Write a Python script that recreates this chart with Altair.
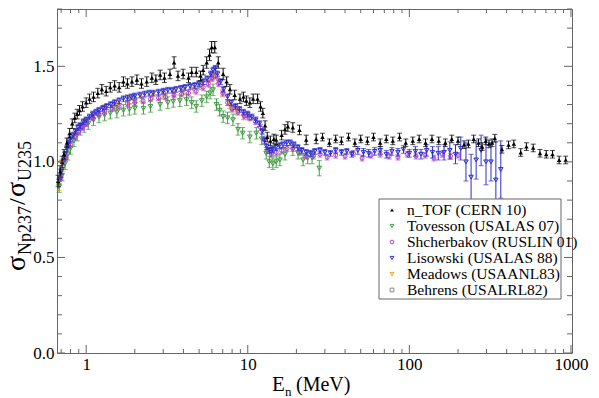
import altair as alt
import pandas as pd

# ---------------- data ----------------
ntof_E = [0.67,0.69,0.71,0.73,0.76,0.79,0.82,0.85,0.88,0.91,
          0.95,1.0,1.05,1.11,1.18,1.25,1.33,1.41,1.5,1.6,
          1.7,1.8,1.92,2.06,2.2,2.37,2.55,2.7,2.87,3.05,
          3.3,3.5,3.7,3.98,4.3,4.5,4.8,5.1,5.3,5.57,
          5.8,5.98,6.25,6.57,7.04,7.4,7.76,8.3,8.95,9.4,
          9.8,10.3,10.8,11.5,12.0,12.4,12.8,13.2,13.8,14.5,
          15.0,16.2,17.0,17.7,19.0,20.9,23,26.5,29,32,
          35,38,42,46,50,55,60,66,72,79,
          87,95,105,115,126,138,152,167,183,200,
          218,232,250,268,282,297,311,325,338,374,
          411,443,489,530,584,643,703,769,845,928]
ntof_v = [0.90,0.95,1.00,1.04,1.10,1.15,1.20,1.23,1.25,1.27,
          1.29,1.31,1.33,1.34,1.36,1.38,1.37,1.39,1.40,1.39,
          1.42,1.41,1.42,1.43,1.41,1.42,1.44,1.43,1.455,1.44,
          1.46,1.52,1.45,1.46,1.44,1.47,1.47,1.45,1.48,1.52,
          1.56,1.60,1.60,1.52,1.46,1.42,1.38,1.35,1.33,1.34,
          1.32,1.31,1.33,1.33,1.29,1.255,1.19,1.13,1.11,1.12,
          1.115,1.14,1.17,1.185,1.18,1.167,1.115,1.12,1.13,1.10,
          1.12,1.11,1.13,1.10,1.12,1.11,1.13,1.10,1.12,1.11,
          1.13,1.10,1.11,1.12,1.10,1.12,1.11,1.10,1.12,1.11,
          1.09,1.094,1.12,1.10,1.08,1.11,1.094,1.10,1.124,1.066,
          1.089,1.094,1.049,1.08,1.073,1.045,1.04,1.04,1.01,1.01]
ntof_err = ([0.03, 0.03, 0.03] + [0.025] * 28 + [0.03] + [0.025] * 7 + [0.03] * 6
            + [0.025] * 23 + [0.02] * 42)

lis_E = [0.68,0.70,0.72,0.74,0.76,0.78,0.80,0.83,0.86,0.89,
         0.92,0.96,1.0,1.05,1.1,1.15,1.2,1.27,1.34,1.42,
         1.5,1.6,1.7,1.8,1.9,2.0,2.15,2.3,2.45,2.6,
         2.8,3.0,3.2,3.4,3.6,3.85,4.1,4.4,4.7,5.0,
         5.3,5.6,5.9,6.1,6.3,6.5,6.8,7.1,7.5,7.9,
         8.4,8.9,9.4,10.0,10.6,11.2,11.8,12.3,12.7,13.1,
         13.6,14.2,14.9,15.7,16.5,17.4,18.3,19.3,20.4,21.6,
         23,24.5,26,28,30,32.5,35,38,41,44,
         48,52,56,61,66,72,78,85,92,100,
         109,118,128,139,151,164,178,193,208,224,
         241,259,278,298,320,343,368]
lis_v = [0.90,0.95,1.00,1.04,1.07,1.10,1.12,1.14,1.16,1.18,
         1.19,1.21,1.22,1.235,1.25,1.26,1.27,1.28,1.29,1.30,
         1.31,1.32,1.33,1.335,1.34,1.345,1.35,1.355,1.36,1.36,
         1.365,1.37,1.375,1.375,1.38,1.385,1.39,1.395,1.40,1.41,
         1.42,1.435,1.46,1.48,1.49,1.46,1.42,1.38,1.34,1.31,
         1.29,1.275,1.26,1.25,1.235,1.22,1.20,1.16,1.11,1.08,
         1.06,1.065,1.075,1.085,1.09,1.10,1.10,1.09,1.075,1.06,
         1.05,1.045,1.055,1.06,1.05,1.045,1.06,1.05,1.055,1.04,
         1.06,1.05,1.045,1.055,1.06,1.04,1.055,1.05,1.065,1.045,
         1.055,1.04,1.06,1.05,1.045,1.05,1.06,1.04,1.07,1.00,
         0.92,1.01,1.06,1.00,1.00,0.905,0.96]
lis_err = ([0.015] * 80 + [0.02] * 10
           + [0.025, 0.025, 0.03, 0.03, 0.035, 0.04, 0.045, 0.05, 0.06, 0.10]
           + [0.12, 0.10, 0.08, 0.12, 0.10, 0.20, 0.15])

shc_E = [0.7,0.75,0.8,0.85,0.9,0.95,1.0,1.1,1.2,1.3,
         1.45,1.6,1.8,2.0,2.25,2.5,2.8,3.1,3.5,3.9,
         4.3,4.8,5.3,5.7,6.0,6.3,6.6,7.0,7.5,8.0,
         8.7,9.5,10.3,11.2,12.0,12.6,13.2,14.0,15.0,16.2,
         17.5,19,21,23,25.5,28,31,35,40,45,
         51,58,66,75,85,97,110,125,142,160,
         180,200]
shc_v = [0.92,1.02,1.09,1.13,1.16,1.18,1.20,1.23,1.25,1.265,
         1.28,1.29,1.305,1.31,1.32,1.33,1.335,1.34,1.35,1.355,
         1.36,1.37,1.39,1.41,1.44,1.45,1.41,1.36,1.31,1.28,
         1.26,1.24,1.23,1.21,1.18,1.12,1.06,1.04,1.05,1.06,
         1.07,1.07,1.05,1.03,1.03,1.04,1.025,1.035,1.03,1.045,
         1.02,1.035,1.04,1.03,1.025,1.04,1.03,1.035,1.02,1.04,
         1.03,1.035]
shc_err = [0.015] * 62

tov_E = [0.68,0.71,0.74,0.77,0.8,0.84,0.88,0.92,0.97,1.03,
         1.11,1.2,1.3,1.41,1.55,1.7,1.85,2.0,2.26,2.5,
         2.87,3.2,3.46,3.8,4.18,4.5,4.8,5.2,5.57,5.85,
         6.1,6.4,6.7,7.04,7.5,8.1,8.7,9.3,10.3,11.3,
         12.2,13.0,13.6,14.3,15.0,15.8,17.0,19.0,20.5,22,
         23.5,25,27.7]
tov_v = [0.87,0.93,0.99,1.04,1.07,1.11,1.14,1.17,1.185,1.20,
         1.22,1.235,1.245,1.255,1.26,1.27,1.275,1.28,1.28,1.29,
         1.30,1.31,1.316,1.32,1.325,1.31,1.29,1.32,1.34,1.36,
         1.377,1.30,1.27,1.237,1.23,1.22,1.17,1.15,1.13,1.15,
         1.12,1.045,1.00,0.99,1.00,1.01,1.04,1.063,1.045,1.01,
         1.02,1.02,0.967]
tov_err = [0.03] * 52 + [0.04]

mea_E = [0.70,0.68,0.72,0.78,0.85,0.95,1.1,1.3,1.55,1.85,2.2,2.6,
         3.0,3.5,4.0,4.6,5.2,5.7,6.1,6.5,7.0,7.7,8.5,9.4]
mea_v = [1.00,0.87,0.97,1.08,1.14,1.19,1.24,1.28,1.30,1.32,1.335,1.345,
         1.35,1.36,1.37,1.38,1.40,1.42,1.45,1.43,1.36,1.30,1.27,1.24]
mea_err = [0.005] + [0.02] * 23
mea_Elo = [0.665] + mea_E[1:]
mea_Ehi = [0.75] + mea_E[1:]

beh_E = [1.0,1.5,2.0,3.0,4.0,5.0,6.0,8.0,10.0,14.0]
beh_v = [1.21,1.29,1.33,1.36,1.38,1.40,1.44,1.28,1.24,1.05]
beh_err = [0.02] * 10

x_major = [1, 10, 100, 1000]
x_minor = [0.7, 0.8, 0.9, 2, 3, 4, 5, 6, 7, 8, 9, 20, 30, 40, 50, 60, 70, 80, 90,
           200, 300, 400, 500, 600, 700, 800, 900]
y_major = [0.0, 0.5, 1.0, 1.5]
y_minor = [0.1, 0.2, 0.3, 0.4, 0.6, 0.7, 0.8, 0.9, 1.1, 1.2, 1.3, 1.4, 1.6, 1.7, 1.8]

leg_labels = ["n_TOF (CERN 10)", "Tovesson (USALAS 07)", "Shcherbakov (RUSLIN 01)",
              "Lisowski (USALAS 88)", "Meadows (USAANL83)", "Behrens (USALRL82)"]

# ---------------- build ----------------
W, H = 515, 344
FONT = "Liberation Serif"
xscale = alt.Scale(type="log", domain=[0.66, 1015])
yscale = alt.Scale(domain=[0, 1.8])
x_axis = alt.Axis(values=x_major, format="d", title=None, grid=False, ticks=False,
                  domain=False, labelFont=FONT, labelFontSize=17, labelColor="black",
                  labelPadding=3, labelFlush=False, labelOverlap=False)
y_axis = alt.Axis(values=y_major, format=".1f", title=None, grid=False, ticks=False,
                  domain=False, labelFont=FONT, labelFontSize=17, labelColor="black",
                  labelPadding=3)


def X(f):
    return alt.X(f, scale=xscale, axis=x_axis)


def Y(f):
    return alt.Y(f, scale=yscale, axis=y_axis)


def frame(E, v, err, Elo=None, Ehi=None):
    d = pd.DataFrame({"E": E, "v": v, "err": err})
    d["lo"] = d["v"] - d["err"]
    d["hi"] = d["v"] + d["err"]
    d["Elo"] = Elo if Elo is not None else E
    d["Ehi"] = Ehi if Ehi is not None else E
    return d


series = [
    ("beh", frame(beh_E, beh_v, beh_err), "#8a8a8a", "square", False, 14),
    ("mea", frame(mea_E, mea_v, mea_err, mea_Elo, mea_Ehi), "#f2a024", "triangle-down", False, 16),
    ("tov", frame(tov_E, tov_v, tov_err), "#3f9a3f", "triangle-down", False, 22),
    ("shc", frame(shc_E, shc_v, shc_err), "#b040c8", "circle", False, 16),
    ("lis", frame(lis_E, lis_v, lis_err), "#2c2cd0", "triangle-down", False, 20),
    ("ntof", frame(ntof_E, ntof_v, ntof_err), "#000000", "triangle-up", True, 20),
]

layers = []
for name, d, color, shape, filled, size in series:
    base = alt.Chart(d)
    layers.append(base.mark_rule(color=color, strokeWidth=1).encode(
        x=X("E:Q"), y=Y("lo:Q"), y2="hi:Q"))
    layers.append(base.mark_tick(color=color, orient="horizontal", size=5, thickness=1).encode(
        x=X("E:Q"), y=Y("lo:Q")))
    layers.append(base.mark_tick(color=color, orient="horizontal", size=5, thickness=1).encode(
        x=X("E:Q"), y=Y("hi:Q")))
    if name == "mea":
        layers.append(base.mark_rule(color=color, strokeWidth=1.5).encode(
            x=X("Elo:Q"), x2="Ehi:Q", y=Y("v:Q")))
    layers.append(base.mark_point(shape=shape, filled=filled, color=color, size=size,
                                  strokeWidth=1, opacity=1).encode(x=X("E:Q"), y=Y("v:Q")))

TICK = "#666666"
xmaj = alt.Chart(pd.DataFrame({"t": x_major}))
xmin = alt.Chart(pd.DataFrame({"t": x_minor}))
ymaj = alt.Chart(pd.DataFrame({"t": y_major}))
ymin = alt.Chart(pd.DataFrame({"t": y_minor}))
for c, ln in ((xmaj, 8), (xmin, 4)):
    layers.append(c.mark_rule(color=TICK, strokeWidth=1).encode(
        x=X("t:Q"), y=alt.value(H), y2=alt.value(H - ln)))
    layers.append(c.mark_rule(color=TICK, strokeWidth=1).encode(
        x=X("t:Q"), y=alt.value(0), y2=alt.value(ln)))
for c, ln in ((ymaj, 8), (ymin, 5)):
    layers.append(c.mark_rule(color=TICK, strokeWidth=1).encode(
        y=Y("t:Q"), x=alt.value(0), x2=alt.value(ln)))
    layers.append(c.mark_rule(color=TICK, strokeWidth=1).encode(
        y=Y("t:Q"), x=alt.value(W), x2=alt.value(W - ln)))

one = alt.Chart(pd.DataFrame({"a": [0]}))

# legend
layers.append(one.mark_rect(fill="white", stroke="#666666", strokeWidth=1).encode(
    x=alt.value(322), x2=alt.value(504), y=alt.value(190), y2=alt.value(290)))
leg_y = [201, 217, 233, 249, 265, 281]
leg_style = [("#000000", "triangle-up", True), ("#3f9a3f", "triangle-down", False),
             ("#b040c8", "circle", False), ("#2c2cd0", "triangle-down", False),
             ("#f2a024", "triangle-down", False), ("#8a8a8a", "square", False)]
for lab, yy, (col, shp, fil) in zip(leg_labels, leg_y, leg_style):
    layers.append(one.mark_point(shape=shp, filled=fil, color=col, size=14, strokeWidth=1,
                                 opacity=1).encode(x=alt.value(335), y=alt.value(yy)))
    layers.append(one.mark_text(text=lab, font=FONT, fontSize=15.5, color="black",
                                align="left", baseline="middle").encode(
        x=alt.value(350), y=alt.value(yy)))

# x title: E_n (MeV)
layers.append(one.mark_text(text="E", font=FONT, fontSize=21, align="left",
                            baseline="alphabetic", color="black").encode(
    x=alt.value(215), y=alt.value(382)))
layers.append(one.mark_text(text="n", font=FONT, fontSize=13, align="left",
                            baseline="alphabetic", color="black").encode(
    x=alt.value(228), y=alt.value(387)))
layers.append(one.mark_text(text="(MeV)", font=FONT, fontSize=20, align="left",
                            baseline="alphabetic", color="black").encode(
    x=alt.value(239), y=alt.value(382)))

# y title: sigma_Np237 / sigma_U235 (rotated)
ytitle = [("σ", 28, -32, 262), ("Np237", 18, -26, 246), ("/", 24, -32, 196),
          ("σ", 28, -32, 188), ("U235", 18, -26, 172)]
for txt, fs, xx, yy in ytitle:
    layers.append(one.mark_text(text=txt, font=FONT, fontSize=fs, align="left",
                                baseline="alphabetic", angle=270, color="black").encode(
        x=alt.value(xx), y=alt.value(yy)))

chart = alt.layer(*layers).properties(
    width=W, height=H,
    padding={"left": 57, "top": 9, "right": 27, "bottom": 45},
    autosize=alt.AutoSizeParams(type="none"),
    background="white",
).configure_view(stroke="#666666", strokeWidth=1)

chart.save("out.html", embed_options={"renderer": "svg", "actions": False})
